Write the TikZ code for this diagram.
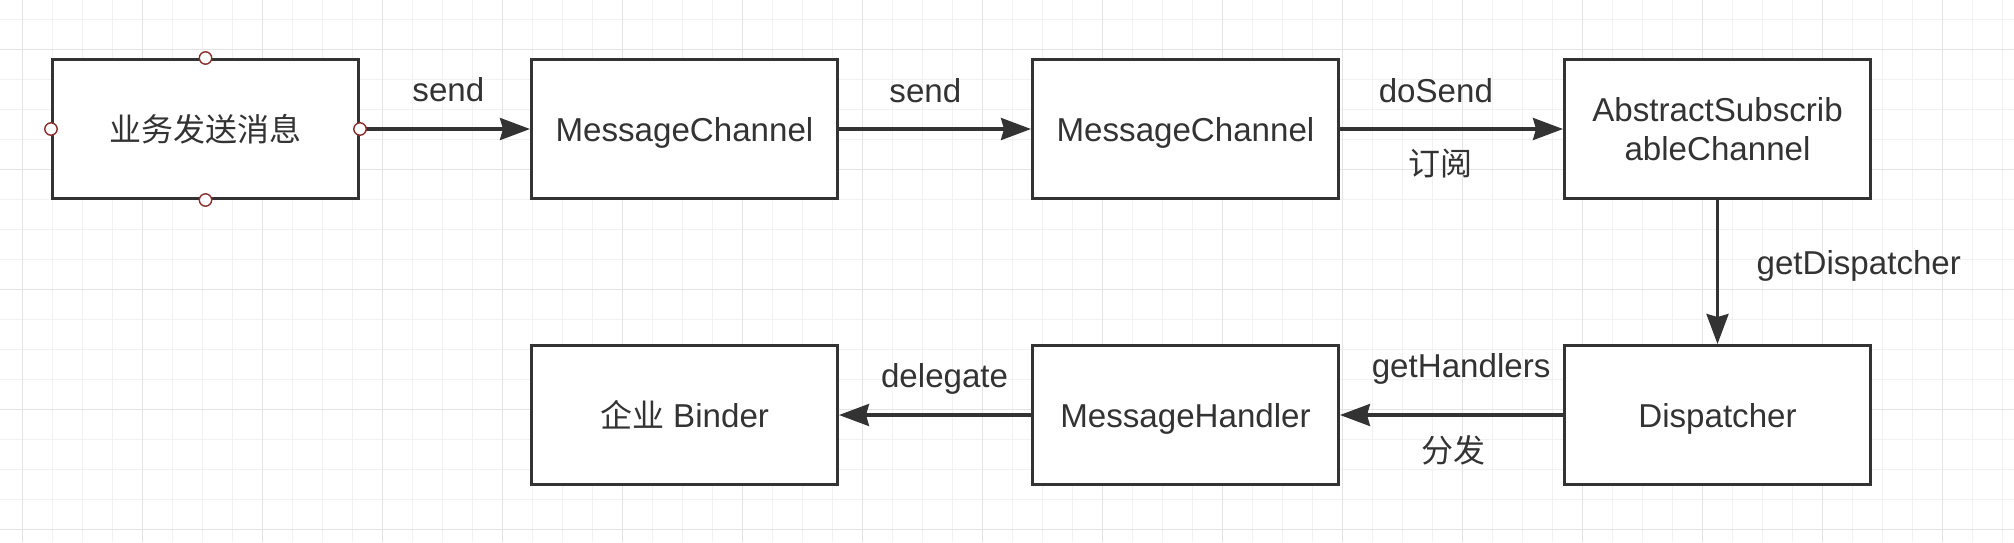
\documentclass[tikz,border=0pt]{standalone}
\usepackage{fontspec}
\setmainfont{Liberation Sans}[Scale=1.035]
\newfontfamily\cjk{Noto Sans CJK SC}
\usetikzlibrary{positioning,arrows.meta}
\definecolor{ink}{HTML}{333333}
\definecolor{gridlo}{HTML}{F1F1F1}
\definecolor{gridhi}{HTML}{E4E4E4}
\definecolor{portred}{HTML}{8B2E2E}
\newcommand\lblfont{\fontsize{16pt}{19.5pt}\selectfont}
\tikzset{
  box/.style={draw=ink, line width=1.5pt, fill=white, text=ink,
    minimum width=153pt, minimum height=69.5pt, font=\lblfont},
  oneline/.style={box, text height=12pt, text depth=-2pt},
  flow/.style={draw=ink, line width=1.6pt,
    -{Stealth[length=15pt,width=11pt,inset=1.5pt]}},
  lbl/.style={font=\lblfont, text=ink, inner sep=0pt, anchor=base},
  port/.style={circle, draw=portred, fill=white, line width=0.7pt,
    minimum size=6.2pt, inner sep=0pt},
}

\begin{document}
\begin{tikzpicture}[x=0.5pt, y=-0.5pt]
  \useasboundingbox (0,0) rectangle (2014,542);
  \fill[white] (0,0) rectangle (2014,542);
  % grid
  \foreach \x in {22.7,52.7,...,2014} \draw[gridlo, line width=0.5pt] (\x,0) -- (\x,542);
  \foreach \y in {19.3,49.3,...,542} \draw[gridlo, line width=0.5pt] (0,\y) -- (2014,\y);
  \foreach \x in {22.7,142.7,...,2014} \draw[gridhi, line width=0.5pt] (\x,0) -- (\x,542);
  \foreach \y in {49.3,169.3,...,542} \draw[gridhi, line width=0.5pt] (0,\y) -- (2014,\y);

  \node[oneline] (src) at (205.5,129) {\cjk 业务发送消息};
  \node[oneline] (ch1) [right=85pt of src] {MessageChannel};
  \node[oneline] (ch2) [right=96pt of ch1] {MessageChannel};
  \node[box, align=center] (asc) [right=111.5pt of ch2] {AbstractSubscrib\\ableChannel};
  \node[oneline] (disp) [below=72pt of asc] {Dispatcher};
  \node[oneline] (hdl) [left=111.5pt of disp] {MessageHandler};
  \node[oneline] (bnd) [left=96pt of hdl] {{\cjk 企业} Binder};

  \draw[flow] (src) -- node[lbl, pos=0.52, yshift=14pt] {send} (ch1);
  \draw[flow] (ch1) -- node[lbl, pos=0.45, yshift=13.5pt] {send} (ch2);
  \draw[flow] (ch2) -- node[lbl, pos=0.43, yshift=13.5pt] {doSend}
    node[lbl, pos=0.45, yshift=-23pt] {\cjk 订阅} (asc);
  \draw[flow] (asc) -- node[lbl, anchor=base west, pos=0.52, xshift=18.75pt] {getDispatcher} (disp);
  \draw[flow] (disp) -- node[lbl, pos=0.457, yshift=19pt] {getHandlers}
    node[lbl, pos=0.49, yshift=-23.5pt] {\cjk 分发} (hdl);
  \draw[flow] (hdl) -- node[lbl, pos=0.45, yshift=14pt] {delegate} (bnd);

  \foreach \a in {north,south,east,west}
    \node[port] at (src.\a) {};
\end{tikzpicture}
\end{document}
